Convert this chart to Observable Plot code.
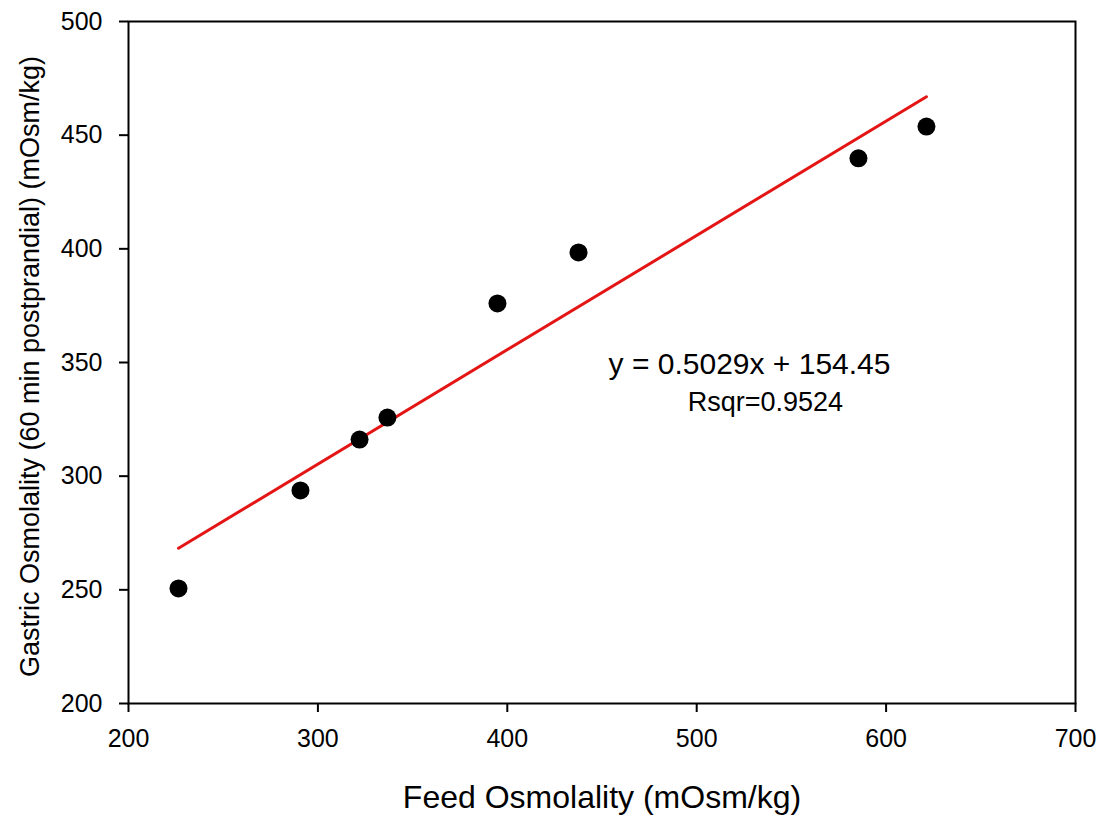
<!DOCTYPE html>
<html>
<head>
<meta charset="utf-8">
<script src="https://cdn.jsdelivr.net/npm/d3@7"></script>
<script src="https://cdn.jsdelivr.net/npm/@observablehq/plot@0.6"></script>
<style>
  html, body { margin: 0; padding: 0; background: #fff; }
  #chart svg { display: block; }
</style>
</head>
<body>
<div id="chart"></div>
<script>
// Data
const feedOsmolality    = [226.4, 290.8, 322.0, 336.7, 394.8, 437.6, 585.4, 621.3];
const gastricOsmolality = [250.6, 293.7, 316.1, 325.8, 376.0, 398.4, 439.8, 453.8];
const fitSlope = 0.5029;
const fitIntercept = 154.45;
const fitRsqr = 0.9524;
const xTicks = [200, 300, 400, 500, 600, 700];
const yTicks = [200, 250, 300, 350, 400, 450, 500];
const xTitle = "Feed Osmolality (mOsm/kg)";
const yTitle = "Gastric Osmolality (60 min postprandial) (mOsm/kg)";

const points = feedOsmolality.map((x, i) => ({x, y: gastricOsmolality[i]}));
const xExt = d3.extent(feedOsmolality);
const fitLine = xExt.map(x => ({x, y: fitSlope * x + fitIntercept}));

const font = "'Liberation Sans', Arial, sans-serif";

const chart = Plot.plot({
  width: 1101,
  height: 817,
  marginLeft: 128,
  marginRight: 26,
  marginTop: 21,
  marginBottom: 114,
  style: {background: "#fff", color: "#000", fontFamily: font, fontSize: "25px"},
  x: {domain: [200, 700]},
  y: {domain: [200, 500]},
  marks: [
    Plot.frame({stroke: "#000", strokeWidth: 2}),
    Plot.axisX({ticks: xTicks, tickSize: 9, tickPadding: 17, strokeWidth: 2, fontSize: 25, label: null, tickFormat: d => String(d)}),
    Plot.axisY({ticks: yTicks, tickSize: 9, tickPadding: 17, strokeWidth: 2, fontSize: 25, label: null, tickFormat: d => String(d)}),
    Plot.line(fitLine, {x: "x", y: "y", stroke: "#e31515", strokeWidth: 3}),
    Plot.dot(points, {x: "x", y: "y", r: 9, fill: "#000", stroke: null}),
    Plot.text([`y = ${fitSlope}x + ${fitIntercept}`], {x: 527.9, y: 349.3, text: d => d, fontSize: 30, textAnchor: "middle", lineAnchor: "middle", fill: "#000"}),
    Plot.text([`Rsqr=${fitRsqr}`], {x: 536.3, y: 332.3, text: d => d, fontSize: 27, textAnchor: "middle", lineAnchor: "middle", fill: "#000"}),
    Plot.text([xTitle], {frameAnchor: "bottom", dy: 94, text: d => d, fontSize: 32, textAnchor: "middle", lineAnchor: "middle", fill: "#000"}),
    Plot.text([yTitle], {frameAnchor: "left", dx: -98, dy: 4, rotate: -90, text: d => d, fontSize: 27, textAnchor: "middle", lineAnchor: "middle", fill: "#000"})
  ]
});
document.getElementById("chart").appendChild(chart);
</script>
</body>
</html>
